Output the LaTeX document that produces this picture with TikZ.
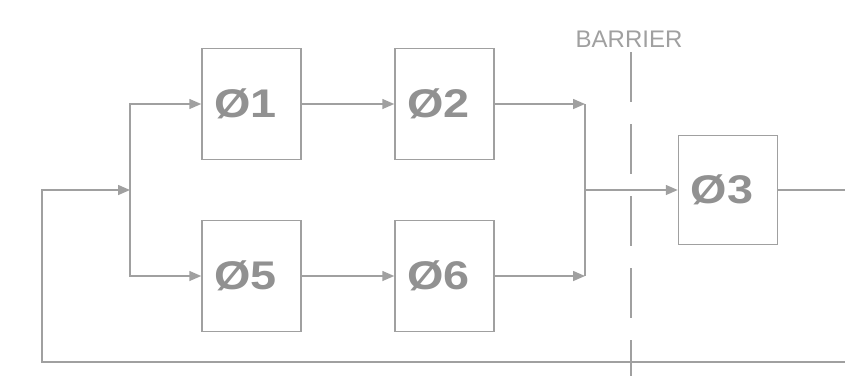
\documentclass[tikz,border=0pt]{standalone}
\usepackage{fontspec}
\setmainfont{Liberation Sans}
\usetikzlibrary{arrows.meta}
\definecolor{ln}{RGB}{160,160,160}
\definecolor{tx}{RGB}{145,145,145}
\newcommand{\blktxt}[1]{\kern-12pt\scalebox{1.17}[1]{#1}}
\begin{document}
\begin{tikzpicture}[x=1pt,y=-1pt,
  blk/.style={draw=ln,line width=1.5pt,minimum width=99pt,minimum height=111pt,inner sep=0pt,
    font=\fontsize{40}{40}\selectfont\bfseries,text=tx},
  wire/.style={draw=ln,line width=1.5pt},
  arr/.style={wire,-{Triangle[length=12pt,width=10pt]}}]
\useasboundingbox (0,0) rectangle (845,376);
\node[blk] (o1) at (251.5,104) {\blktxt{Ø1}};
\node[blk] (o2) at (444.5,104) {\blktxt{Ø2}};
\node[blk] (o5) at (251.5,276) {\blktxt{Ø5}};
\node[blk] (o6) at (444.5,276) {\blktxt{Ø6}};
\node[blk,minimum height=109pt] (o3) at (728,190) {\blktxt{Ø3}};
\node[text=ln,font=\fontsize{24}{24}\selectfont] (bar) at (629,39) {BARRIER};
\coordinate (split) at (130,190);
\coordinate (merge) at (585,190);
\coordinate (m1) at (585,104);
\coordinate (m2) at (585,276);
\coordinate (out) at (845,190);
\coordinate (fbr) at (845,362);
\coordinate (fbl) at (42,362);
\coordinate (fbt) at (42,190);
\coordinate (bt) at (631,52);
\coordinate (bb) at (631,376);
\draw[arr] (split) |- (o1.west);
\draw[arr] (split) |- (o5.west);
\draw[arr] (o1) -- (o2);
\draw[arr] (o5) -- (o6);
\draw[arr] (o2.east) -- (m1);
\draw[arr] (o6.east) -- (m2);
\draw[wire] (m1) -- (m2);
\draw[arr] (merge) -- (o3.west);
\draw[wire] (o3.east) -- (out);
\draw[arr] (fbr) -- (fbl) -- (fbt) -- (split);
\draw[wire,dash pattern=on 50pt off 22pt] (bt) -- (bb);
\end{tikzpicture}
\end{document}
